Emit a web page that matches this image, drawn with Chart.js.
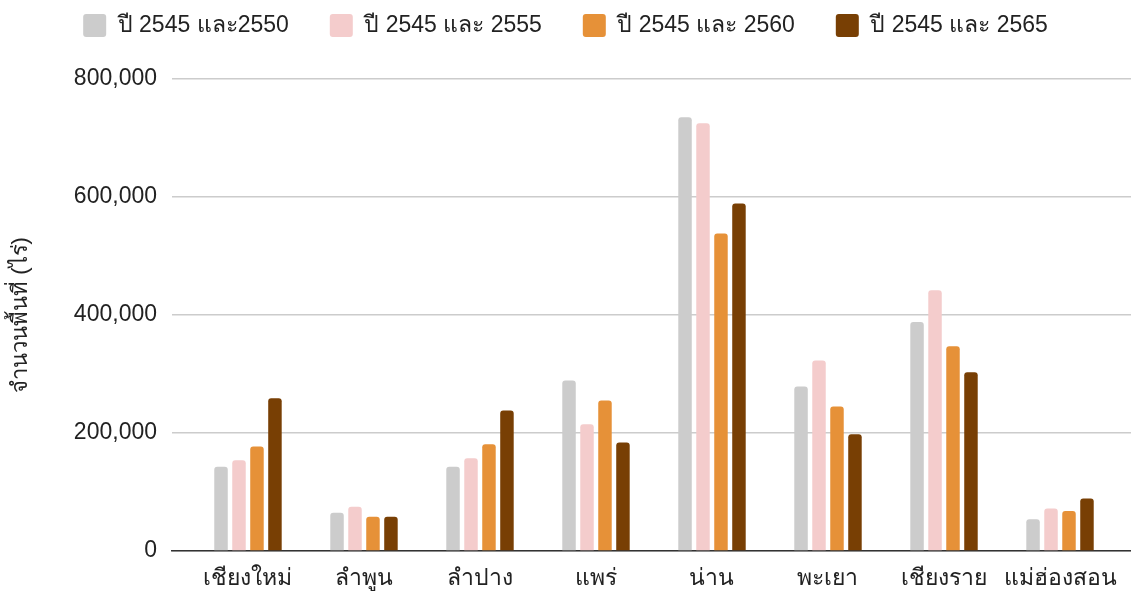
<!DOCTYPE html>
<html>
<head>
<meta charset="utf-8">
<script src="https://cdn.jsdelivr.net/npm/chart.js@4"></script>
<style>
  html, body { margin: 0; padding: 0; background: #fff; }
  #wrap { width: 1131px; height: 591px; }
</style>
</head>
<body>
<div id="wrap"><canvas id="barChart"></canvas></div>
<script>
const provinces = ["เชียงใหม่", "ลำพูน", "ลำปาง", "แพร่", "น่าน", "พะเยา", "เชียงราย", "แม่ฮ่องสอน"];
const seriesNames = ["ปี 2545 และ2550", "ปี 2545 และ 2555", "ปี 2545 และ 2560", "ปี 2545 และ 2565"];
const area2550 = [143000, 65000, 143000, 289000, 735000, 279000, 388000, 54000];
const area2555 = [154000, 75000, 157000, 215000, 725000, 323000, 442000, 72000];
const area2560 = [177000, 58000, 181000, 255000, 538000, 245000, 347000, 68000];
const area2565 = [259000, 58000, 238000, 184000, 589000, 198000, 303000, 89000];
const yTicks = [0, 200000, 400000, 600000, 800000];
const barColors = ["#cccccc", "#f4cccc", "#e69138", "#783f04"];

const fontFamily = "'Liberation Sans', Arial, sans-serif";
const allSeries = [area2550, area2555, area2560, area2565];

// extra room under the legend
const legendSpacer = {
  id: "legendSpacer",
  beforeInit(chart) {
    const originalFit = chart.legend.fit;
    chart.legend.fit = function fit() {
      originalFit.bind(chart.legend)();
      this.height += 32;
    };
  },
};

const ctx = document.getElementById("barChart");

new Chart(ctx, {
  type: "bar",
  data: {
    labels: provinces,
    datasets: allSeries.map((values, i) => ({
      label: seriesNames[i],
      data: values,
      backgroundColor: barColors[i],
      borderWidth: 0,
      borderRadius: { topLeft: 3, topRight: 3 },
      borderSkipped: "bottom",
      categoryPercentage: 0.62,
      barPercentage: 0.75,
    })),
  },
  plugins: [legendSpacer],
  options: {
    responsive: true,
    maintainAspectRatio: false,
    animation: false,
    layout: { padding: { left: 0, right: 0, top: -27, bottom: 0 } },
    plugins: {
      legend: {
        position: "top",
        labels: {
          boxWidth: 23,
          boxHeight: 23,
          useBorderRadius: true,
          borderRadius: 3,
          padding: 41,
          color: "#222",
          font: { family: fontFamily, size: 23 },
        },
      },
      tooltip: { enabled: false },
    },
    scales: {
      x: {
        grid: { display: false, drawTicks: false },
        border: { display: true, color: "#333", width: 1.5 },
        ticks: { color: "#222", padding: 14, font: { family: fontFamily, size: 23 } },
        // categories sit a bit inside the gridlines, like the original
        afterBuildTicks: (scale) => {
          scale._startValue = -0.655;
          scale._valueRange = 8.267;
        },
        afterFit: (scale) => {
          scale.height = 40;
          scale.paddingLeft = 0;
          scale.paddingRight = 0;
        },
      },
      y: {
        min: 0,
        max: 800000,
        afterBuildTicks: (axis) => { axis.ticks = yTicks.map((v) => ({ value: v })); },
        afterFit: (scale) => {
          scale.width = 172;
          scale.paddingTop = 0;
          scale.paddingBottom = 0;
        },
        grid: { color: "#cccccc", lineWidth: 1.5, drawTicks: false },
        border: { display: false },
        ticks: {
          color: "#222",
          padding: 15,
          font: { family: fontFamily, size: 23 },
          callback: (v) => v.toLocaleString("en-US"),
        },
        title: {
          display: true,
          text: "จำนวนพื้นที่ (ไร่)",
          color: "#222",
          padding: { top: 8, bottom: 28 },
          font: { family: fontFamily, size: 22 },
        },
      },
    },
  },
});
</script>
</body>
</html>
